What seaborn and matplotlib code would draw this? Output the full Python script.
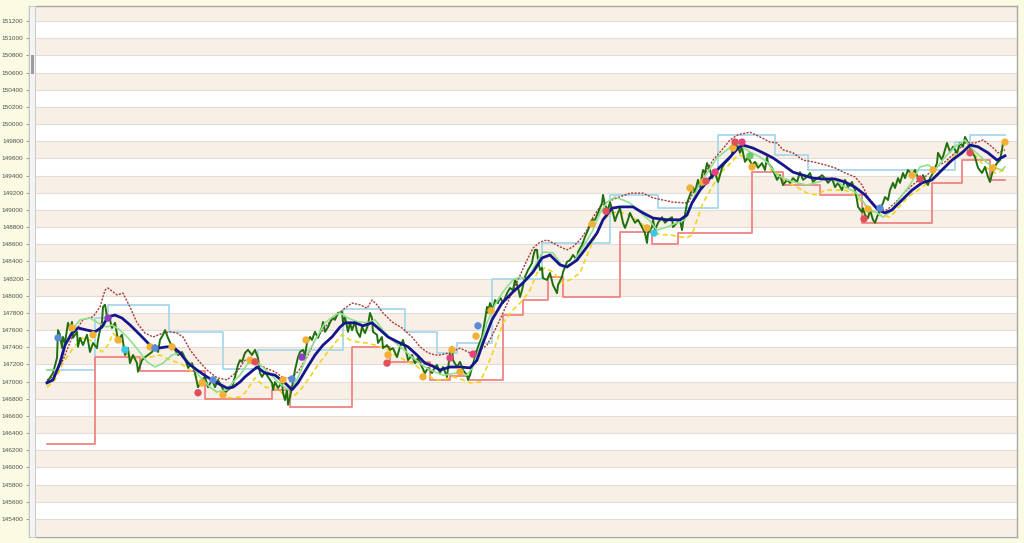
import matplotlib
matplotlib.use('Agg')
import matplotlib.pyplot as plt
from matplotlib.patches import Rectangle
import seaborn as sns

# ---------------- data (bar index / price) ----------------
price_t = [0, 3, 6, 10, 11, 13, 15, 16, 18, 21, 23, 25, 26, 30, 31, 33, 36, 40, 43, 46,
           50, 51, 53, 55, 56, 58, 60, 63, 65, 68, 71, 75, 78, 81, 83, 86, 90, 91, 95, 98,
           101, 105, 108, 111, 113, 116, 118, 121, 125, 128, 131, 135, 138, 141, 145, 148, 151, 155, 158, 161,
           165, 168, 171, 175, 178, 181, 185, 188, 191, 193,
           195, 198, 201, 205, 208, 211, 213, 215, 218, 221, 225, 226, 228, 231, 235, 236, 238, 240, 241, 243,
           245, 246, 248, 251, 253, 256, 258, 260, 263, 265, 268, 271, 275, 276, 278, 281, 285, 288, 291, 295,
           296, 298, 301, 303, 305, 308, 310, 313, 315, 318, 321, 323, 325, 326, 330, 331, 335, 336, 340, 343,
           346, 350, 353, 356, 360, 361, 365, 368, 371, 375, 378, 381, 385, 388,
           390, 393, 396, 400, 403, 405, 406, 410, 413, 416, 420, 421, 423, 425, 428, 431, 435, 438, 440, 441,
           443, 446, 448, 451, 453, 456, 460, 463, 466, 468, 471, 473, 475, 478, 481, 485, 486, 488, 490, 491,
           493, 495, 496, 500, 503, 506, 510, 511, 515, 516, 520, 523, 526, 530, 531, 535, 538, 541, 545, 548,
           551, 555, 556, 558, 561, 563, 566, 568, 570, 573, 576, 578, 581, 583,
           585, 588, 591, 595, 598, 600, 601, 605, 606, 608, 611, 615, 618, 621, 625, 626, 630, 633, 635, 636,
           638, 640, 643, 646, 648, 651, 653, 656, 658, 660, 663, 665, 668, 671, 673, 675, 678, 681, 685, 686,
           688, 690, 691, 693, 695, 696, 698, 701, 705, 708, 711, 715, 718, 720, 721, 725, 728, 730, 733, 736,
           740, 743, 746, 750, 753, 756, 760, 763, 766, 770, 773,
           775, 778, 781, 785, 788, 791, 795, 798, 801, 805, 808, 810, 811, 815, 816, 818, 821, 823, 826, 828,
           830, 833, 836, 838, 841, 843, 846, 848, 851, 853, 856, 858, 861, 865, 868, 871, 875, 876, 878, 881,
           883, 886, 890, 891, 895, 898, 900, 903, 906, 910, 913, 916, 918, 921, 925, 928, 931, 935, 938, 941,
           943, 946, 950, 953, 955, 956, 958]
price_v = [146995, 147045, 147100, 147275, 147600, 147545, 147390, 147520, 147450, 147685,
           147600, 147695, 147510, 147580, 147405, 147510, 147425, 147545, 147345, 147450,
           147390, 147485, 147600, 147695, 147870, 147895, 147755, 147720, 147625, 147685,
           147485, 147545, 147310, 147390, 147215, 147310, 147215, 147115, 147250, 147285,
           147310, 147345, 147425, 147345, 147485, 147545, 147600, 147510, 147405, 147370,
           147310, 147345, 147275, 147160, 147215, 147100, 146935, 147020, 147055, 146935,
           147020, 146935, 147020, 146935, 146870, 146905, 146935, 147055, 147195, 147250,
           147230, 147335, 147370, 147310, 147370, 147275, 147100, 147055, 147115, 147055,
           146985, 146905, 146995, 146925, 146995, 146870, 146785, 146905, 146730, 146820,
           146935, 146995, 147135, 147285, 147345, 147370, 147310, 147450, 147520, 147485,
           147580, 147510, 147635, 147695, 147580, 147635, 147740, 147720, 147800, 147810,
           147685, 147755, 147580, 147685, 147600, 147695, 147580, 147520, 147635, 147565,
           147660, 147800, 147740, 147580, 147545, 147450, 147520, 147390, 147425, 147370,
           147390, 147285, 147405, 147485, 147310, 147250, 147310, 147215, 147275, 147170,
           147100, 147160, 147100, 147170,
           147195, 147100, 147170, 147055, 147335, 147405, 147250, 147170, 147230, 147135,
           147075, 147020, 147075, 147170, 147285, 147405, 147520, 147720, 147870, 147800,
           147915, 147835, 147950, 147915, 147985, 147915, 148030, 148090, 148065, 148185,
           148100, 147985, 148065, 148220, 148300, 148380, 148450, 148535, 148535, 148415,
           148300, 148325, 148205, 148185, 148265, 148125, 148030, 148125, 148220, 148275,
           148395, 148415, 148475, 148415, 148510, 148590, 148685, 148765, 148885, 148885,
           148965, 149080, 149175, 149055, 149000, 149090, 148965, 148870, 148940, 149020,
           148850, 148790, 148885, 148965,
           148915, 148850, 148885, 148800, 148730, 148615, 148730, 148800, 148885, 148765,
           148850, 148915, 148850, 148885, 148915, 148800, 148850, 148885, 148765, 148850,
           148940, 149080, 149175, 149265, 149210, 149350, 149265, 149465, 149430, 149545,
           149465, 149370, 149430, 149325, 149405, 149490, 149545, 149580, 149640, 149780,
           149700, 149815, 149735, 149665, 149735, 149665, 149560, 149615, 149525, 149560,
           149490, 149545, 149465, 149615, 149545, 149490, 149405, 149350, 149405, 149290,
           149350, 149315, 149370, 149325, 149440, 149350, 149385, 149430, 149325, 149370,
           149385,
           149405, 149370, 149315, 149370, 149265, 149315, 149230, 149350, 149265, 149325,
           149230, 149115, 149035, 148975, 149020, 148940, 148905, 149000, 148885, 148850,
           148915, 149000, 149080, 149150, 149115, 149230, 149315, 149255, 149370, 149315,
           149430, 149370, 149465, 149405, 149465, 149370, 149325, 149405, 149350, 149290,
           149370, 149430, 149545, 149665, 149580, 149700, 149780, 149675, 149735, 149665,
           149780, 149735, 149850, 149780, 149675, 149615, 149490, 149430, 149500, 149385,
           149325, 149465, 149545, 149580, 149700, 149780, 149815]

ma_t = [0, 6, 13, 18, 25, 31, 40, 48, 55, 61, 68, 75, 83, 93, 103, 111, 120, 126, 133, 141,
        150, 160, 170, 180, 186, 193, 198, 210, 218, 228, 238, 245, 251, 260, 268, 276, 285, 293, 298, 308,
        316, 325, 331, 341, 351, 361, 370, 378, 385, 393, 403, 413, 423, 430, 436, 445, 455, 466, 476, 486,
        495, 503, 513, 520, 530, 540, 550, 556, 565, 573, 586, 596, 606, 620, 633, 640, 645, 653, 663, 673,
        683, 691, 696, 706, 716, 726, 736, 746, 756, 766, 778, 788, 798, 808, 818, 825, 831, 838, 845, 855,
        865, 875, 885, 895, 905, 915, 923, 931, 941, 950, 958]
ma_v = [146985, 147020, 147215, 147425, 147565, 147625, 147600, 147580, 147635, 147755,
        147775, 147740, 147660, 147545, 147425, 147390, 147405, 147405, 147335, 147215,
        147135, 147055, 146985, 146925, 146935, 146995, 147055, 147170, 147100, 147075,
        146985, 146905, 146985, 147160, 147310, 147425, 147520, 147635, 147685, 147685,
        147650, 147685, 147625, 147520, 147460, 147405, 147310, 147215, 147185, 147135,
        147170, 147170, 147160, 147250, 147450, 147720, 147915, 148045, 148150, 148275,
        148440, 148475, 148360, 148335, 148415, 148570, 148730, 148885, 149020, 149035,
        149035, 148965, 148905, 148885, 148885, 148940, 149080, 149230, 149370, 149500,
        149615, 149720, 149755, 149720, 149665, 149605, 149525, 149440, 149405, 149370,
        149360, 149360, 149325, 149265, 149175, 149080, 149000, 148965, 149000, 149115,
        149230, 149315, 149350, 149465, 149580, 149665, 149755, 149735, 149665, 149580,
        149630]

fast_t = [0, 10, 16, 25, 33, 43, 51, 60, 65, 73, 81, 91, 100, 108, 116, 125, 133, 143, 153, 163,
          170, 180, 188, 193, 201, 211, 221, 231, 241, 246, 253, 261, 270, 278, 288, 293, 301, 311, 321, 328,
          336, 345, 355, 365, 375, 383, 396, 410, 420, 426, 433, 440, 448, 456, 466, 473, 480, 490, 496, 506,
          516, 526, 536, 546, 553, 560, 568, 576, 583, 593, 603, 610, 620, 630, 638, 643, 651, 660, 670, 680,
          688, 695, 703, 713, 721, 730, 740, 750, 760, 773, 778, 788, 798, 808, 815, 821, 830, 836, 843, 853,
          863, 873, 881, 888, 898, 908, 918, 926, 935, 945, 955, 958]
fast_v = [147135, 147135, 147370, 147600, 147720, 147740, 147685, 147635, 147660, 147600,
          147510, 147370, 147230, 147170, 147215, 147310, 147335, 147215, 147055, 146935,
          146880, 146905, 147020, 147075, 147215, 147215, 147115, 146995, 146905, 146925,
          147100, 147335, 147520, 147685, 147775, 147800, 147740, 147695, 147685, 147720,
          147600, 147485, 147390, 147285, 147195, 147135, 147075, 147100, 147075, 147170,
          147405, 147685, 147895, 148045, 148185, 148220, 148185, 148395, 148510, 148500,
          148335, 148380, 148570, 148765, 148965, 149090, 149150, 149115, 149080, 148975,
          148870, 148765, 148800, 148850, 148885, 149035, 149265, 149430, 149605, 149700,
          149780, 149735, 149675, 149615, 149545, 149405, 149350, 149315, 149290, 149330,
          149370, 149350, 149265, 149210, 149115, 149020, 148965, 148915, 148975, 149140,
          149290, 149500, 149525, 149465, 149615, 149735, 149815, 149700, 149605, 149500,
          149465, 149500]

slow_t = [0, 8, 16, 25, 35, 43, 48, 55, 61, 66, 73, 78, 85, 93, 103, 113, 123, 133, 143, 153,
          163, 173, 183, 193, 198, 208, 218, 228, 238, 246, 255, 263, 271, 280, 288, 295, 303, 311, 320, 328,
          338, 348, 358, 368, 378, 388, 396, 406, 416, 423, 433, 440, 448, 456, 466, 476, 483, 490, 498, 506,
          515, 523, 533, 541, 550, 556, 565, 573, 583, 593, 603, 613, 623, 633, 640, 645, 650, 656, 665, 673,
          680, 688, 693, 701, 710, 720, 730, 740, 750, 760, 770, 778, 788, 798, 808, 818, 826, 835, 843, 851,
          861, 871, 881, 891, 901, 911, 921, 928, 938, 948, 958]
slow_v = [146935, 147020, 147215, 147370, 147510, 147485, 147425, 147345, 147425, 147565,
          147485, 147335, 147275, 147275, 147285, 147310, 147250, 147215, 147135, 147020,
          146935, 146845, 146810, 146820, 146870, 147045, 146935, 146925, 146845, 146820,
          146925, 147055, 147195, 147335, 147450, 147545, 147485, 147460, 147450, 147425,
          147390, 147310, 147250, 147195, 147100, 147020, 147020, 147055, 147020, 146985,
          146995, 147170, 147405, 147685, 147835, 147950, 148065, 148265, 148325, 148275,
          148150, 148185, 148265, 148500, 148730, 148885, 148965, 148975, 148940, 148850,
          148765, 148710, 148710, 148685, 148675, 148710, 148885, 149080, 149265, 149430,
          149500, 149605, 149640, 149580, 149545, 149490, 149430, 149325, 149265, 149195,
          149175, 149230, 149230, 149230, 149175, 149055, 148975, 148940, 148915, 149020,
          149150, 149230, 149315, 149405, 149560, 149665, 149700, 149640, 149500, 149430,
          149465]

upper_t = [0, 6, 16, 26, 36, 46, 53, 58, 61, 70, 76, 83, 90, 98, 106, 116, 123, 130, 136, 143,
           151, 160, 170, 180, 190, 198, 208, 218, 228, 236, 243, 251, 260, 268, 278, 288, 298, 305, 313, 320,
           325, 330, 336, 345, 355, 365, 373, 381, 388, 393, 403, 413, 423, 433, 440, 448, 456, 463, 471, 480,
           486, 493, 500, 506, 513, 520, 526, 533, 540, 546, 553, 560, 570, 583, 596, 606, 616, 626, 641, 646,
           653, 660, 666, 675, 683, 691, 703, 713, 723, 730, 736, 746, 756, 766, 778, 788, 798, 808, 815, 821,
           828, 835, 840, 848, 858, 868, 878, 888, 898, 908, 918, 928, 936, 945, 951, 958]
upper_v = [147020, 147055, 147250, 147545, 147720, 147755, 147870, 148065, 148090, 148010,
           148030, 147870, 147685, 147565, 147520, 147565, 147580, 147565, 147520, 147370,
           147250, 147135, 147045, 147020, 147115, 147250, 147230, 147160, 147115, 147045,
           147045, 147115, 147285, 147485, 147635, 147755, 147855, 147915, 147895, 147855,
           147950, 147895, 147800, 147695, 147625, 147520, 147405, 147335, 147310, 147310,
           147335, 147390, 147335, 147370, 147425, 147600, 147800, 147985, 148185, 148415,
           148555, 148625, 148650, 148615, 148570, 148535, 148570, 148650, 148765, 148915,
           149035, 149090, 149140, 149195, 149195, 149140, 149115, 149090, 149080, 149195,
           149325, 149465, 149580, 149700, 149815, 149875, 149905, 149850, 149790, 149780,
           149700, 149665, 149580, 149560, 149525, 149490, 149430, 149385, 149290, 149150,
           149055, 149000, 149000, 149080, 149210, 149315, 149385, 149490, 149560, 149665,
           149780, 149780, 149815, 149735, 149665, 149700]

# support / resistance steps
sup_t = [0, 48, 93, 158, 225, 243, 305, 343, 383, 403, 421, 456, 476, 501, 516, 573, 605, 631, 705, 736,
         773, 815, 885, 915, 943, 958]
sup_v = [146275, 147285, 147125, 146800, 146905, 146705, 147405, 147230, 147020, 147060,
         147020, 147775, 147950, 148220, 147985, 148745, 148605, 148730, 149440, 149290,
         149170, 148850, 149315, 149580, 149350, 149350]
res_t = [0, 48, 61, 122, 176, 211, 296, 358, 390, 410, 445, 495, 563, 611, 671, 728, 761, 908, 923, 958]
res_v = [147135, 147740, 147895, 147580, 147150, 147370, 147845, 147580, 147335, 147450,
         148195, 148615, 149175, 149020, 149875, 149640, 149465, 149790, 149875, 149875]

# signal dots
dot_t = [11, 25, 46, 61, 71, 78, 103, 108, 125, 151, 155, 166, 176, 203, 208, 236, 245, 255, 259, 340,
         341, 376, 403, 405, 413, 426, 429, 431, 444, 545, 559, 600, 607, 643, 656, 659, 668, 686, 688, 695,
         703, 705, 817, 821, 833, 865, 873, 886, 923, 946, 958]
dot_v = [147510, 147625, 147545, 147740, 147485, 147370, 147405, 147390, 147405, 146870,
         146985, 147020, 146845, 147250, 147230, 147020, 147030, 147285, 147485, 147215,
         147310, 147055, 147275, 147370, 147115, 147320, 147530, 147650, 147825, 148835,
         148985, 148790, 148730, 149255, 149325, 149335, 149440, 149720, 149790, 149790,
         149630, 149500, 148895, 149010, 149020, 149405, 149360, 149465, 149665, 149490,
         149790]
dot_c = ['blue', 'orange', 'orange', 'purple', 'orange', 'cyan', 'orange', 'blue', 'orange', 'red',
         'orange', 'blue', 'orange', 'orange', 'red', 'orange', 'blue', 'purple', 'orange', 'red',
         'orange', 'orange', 'pink', 'orange', 'orange', 'pink', 'orange', 'blue', 'orange', 'orange',
         'red', 'orange', 'cyan', 'orange', 'orange', 'red', 'pink', 'orange', 'red', 'pink',
         'green', 'orange', 'red', 'orange', 'blue', 'orange', 'red', 'orange', 'red', 'orange',
         'orange']
dot_pal = {'orange': '#f2b035', 'red': '#e0505a', 'pink': '#e8407f', 'blue': '#5a8ad8',
           'purple': '#8a3cc0', 'cyan': '#38c8e8', 'green': '#6cc86c'}

yticks = list(range(145400, 151201, 200))

# ------------------------------------------------------------------
plt.rcParams['font.family'] = ['Liberation Sans', 'DejaVu Sans']

W, H = 1024, 543
fig = plt.figure(figsize=(W / 100, H / 100), dpi=100, facecolor='#fbfbe3')
ax = fig.add_axes([36 / W, 1 - 537 / H, (1017 - 36) / W, (537 - 6) / H])
ax.set_facecolor('white')
ax.set_ylim(145190, 151375)
ax.set_xlim(-11, 970)

# alternating bands + grid
for lo in range(145200, 151400, 400):
    ax.axhspan(lo, lo + 200, color='#f8f0e7', lw=0, zorder=0)
for v in yticks:
    ax.axhline(v, color='#e4ddd6', lw=0.8, zorder=0.5)

sns.lineplot(x=res_t, y=res_v, ax=ax, color='#a9d8ea', lw=1.3, drawstyle='steps-post',
             estimator=None, sort=False, zorder=2)
sns.lineplot(x=sup_t, y=sup_v, ax=ax, color='#f08484', lw=1.3, drawstyle='steps-post',
             estimator=None, sort=False, zorder=2)
sns.lineplot(x=slow_t, y=slow_v, ax=ax, color='#f2d41c', lw=1.2, linestyle=(0, (3, 2)),
             estimator=None, sort=False, zorder=3)
sns.lineplot(x=upper_t, y=upper_v, ax=ax, color='#a83a3a', lw=1.0, linestyle=(0, (1.5, 1)),
             estimator=None, sort=False, zorder=3)
sns.lineplot(x=price_t, y=price_v, ax=ax, color='#1f700c', lw=1.4,
             estimator=None, sort=False, zorder=4)
sns.lineplot(x=fast_t, y=fast_v, ax=ax, color='#90e090', lw=1.2,
             estimator=None, sort=False, zorder=5)
sns.lineplot(x=ma_t, y=ma_v, ax=ax, color='#16168a', lw=2.0,
             estimator=None, sort=False, zorder=6)
sns.scatterplot(x=dot_t, y=dot_v, hue=dot_c, palette=dot_pal, ax=ax, s=28,
                edgecolor='none', legend=False, zorder=7)

# axes cosmetics
for sp in ax.spines.values():
    sp.set_color('#a8a8a8')
    sp.set_linewidth(1)
ax.spines['left'].set_position(('outward', 5))
ax.set_xticks([])
ax.set_yticks(yticks)
ax.set_yticklabels([str(v) for v in yticks])
ax.tick_params(axis='y', length=2.5, width=0.6, color='#888888', pad=1.5,
               labelsize=4.6, labelcolor='#505050')
ax.set_xlabel('')
ax.set_ylabel('')

# scrollbar strip on the left
fig.patches.append(Rectangle((29 / W, 1 - 537 / H), 6 / W, 531 / H, transform=fig.transFigure,
                             facecolor='#f3f3f3', edgecolor='#c4c4c4', lw=0.6, zorder=0))
fig.patches.append(Rectangle((31 / W, 1 - 74 / H), 3 / W, 19 / H, transform=fig.transFigure,
                             facecolor='#9c9c9c', edgecolor='none', zorder=1))

fig.savefig('out.png', dpi=100, facecolor=fig.get_facecolor())
